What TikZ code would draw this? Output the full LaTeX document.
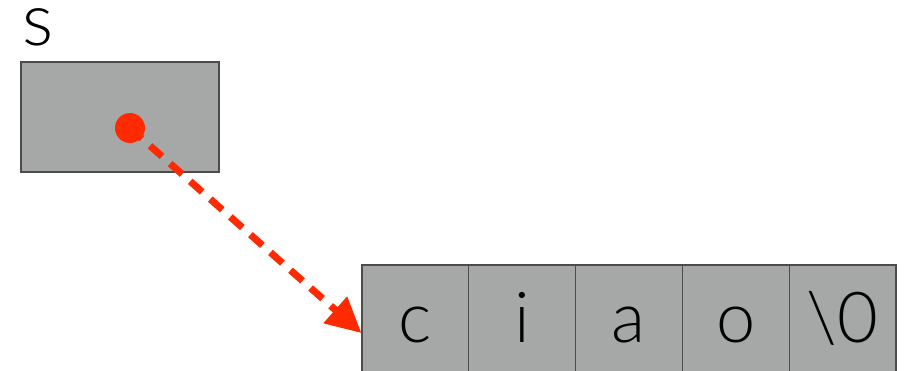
\documentclass[tikz,border=0pt]{standalone}
\usepackage{fontspec}
\setmainfont{Lato Light}
\usetikzlibrary{arrows.meta}
\definecolor{cellgray}{HTML}{A5A8A6}
\definecolor{ptrred}{HTML}{FF2A00}
\begin{document}
\begin{tikzpicture}[x=0.025cm, y=-0.025cm]
  \tikzstyle{cell}=[rectangle, draw=black!70, line width=0.8pt, fill=cellgray, minimum width=2.67cm, minimum height=3.4cm, inner sep=0pt, text height=0.6cm, text depth=0.15cm, font=\fontsize{50}{60}\selectfont]
  \tikzstyle{ptr}=[draw=ptrred, line width=5pt, dash pattern=on 0.4cm off 0.27cm, -{Triangle[length=0.875cm, width=0.85cm]}]

  \useasboundingbox (0, 0) rectangle (906, 370);
  \clip (0, 0) rectangle (906, 370);

  \node[anchor=base west, inner sep=0pt, font=\fontsize{52}{60}\selectfont] (slabel) at (22, 45) {s};
  \node[cell, minimum width=4.95cm, minimum height=2.75cm] (s) at (120, 117) {};
  \node[circle, fill=ptrred, minimum size=0.75cm, inner sep=0pt] (dot) at (130, 128) {};

  \node[cell] (c1) at (415.4, 333) {c};
  \node[cell] (c2) at (522.2, 333) {i};
  \node[cell] (c3) at (629,   333) {a};
  \node[cell] (c4) at (735.8, 333) {o};
  \node[cell] (c5) at (842.6, 333) {\textbackslash0};

  \draw[ptr] (dot.center) -- (c1.west);

\end{tikzpicture}
\end{document}
